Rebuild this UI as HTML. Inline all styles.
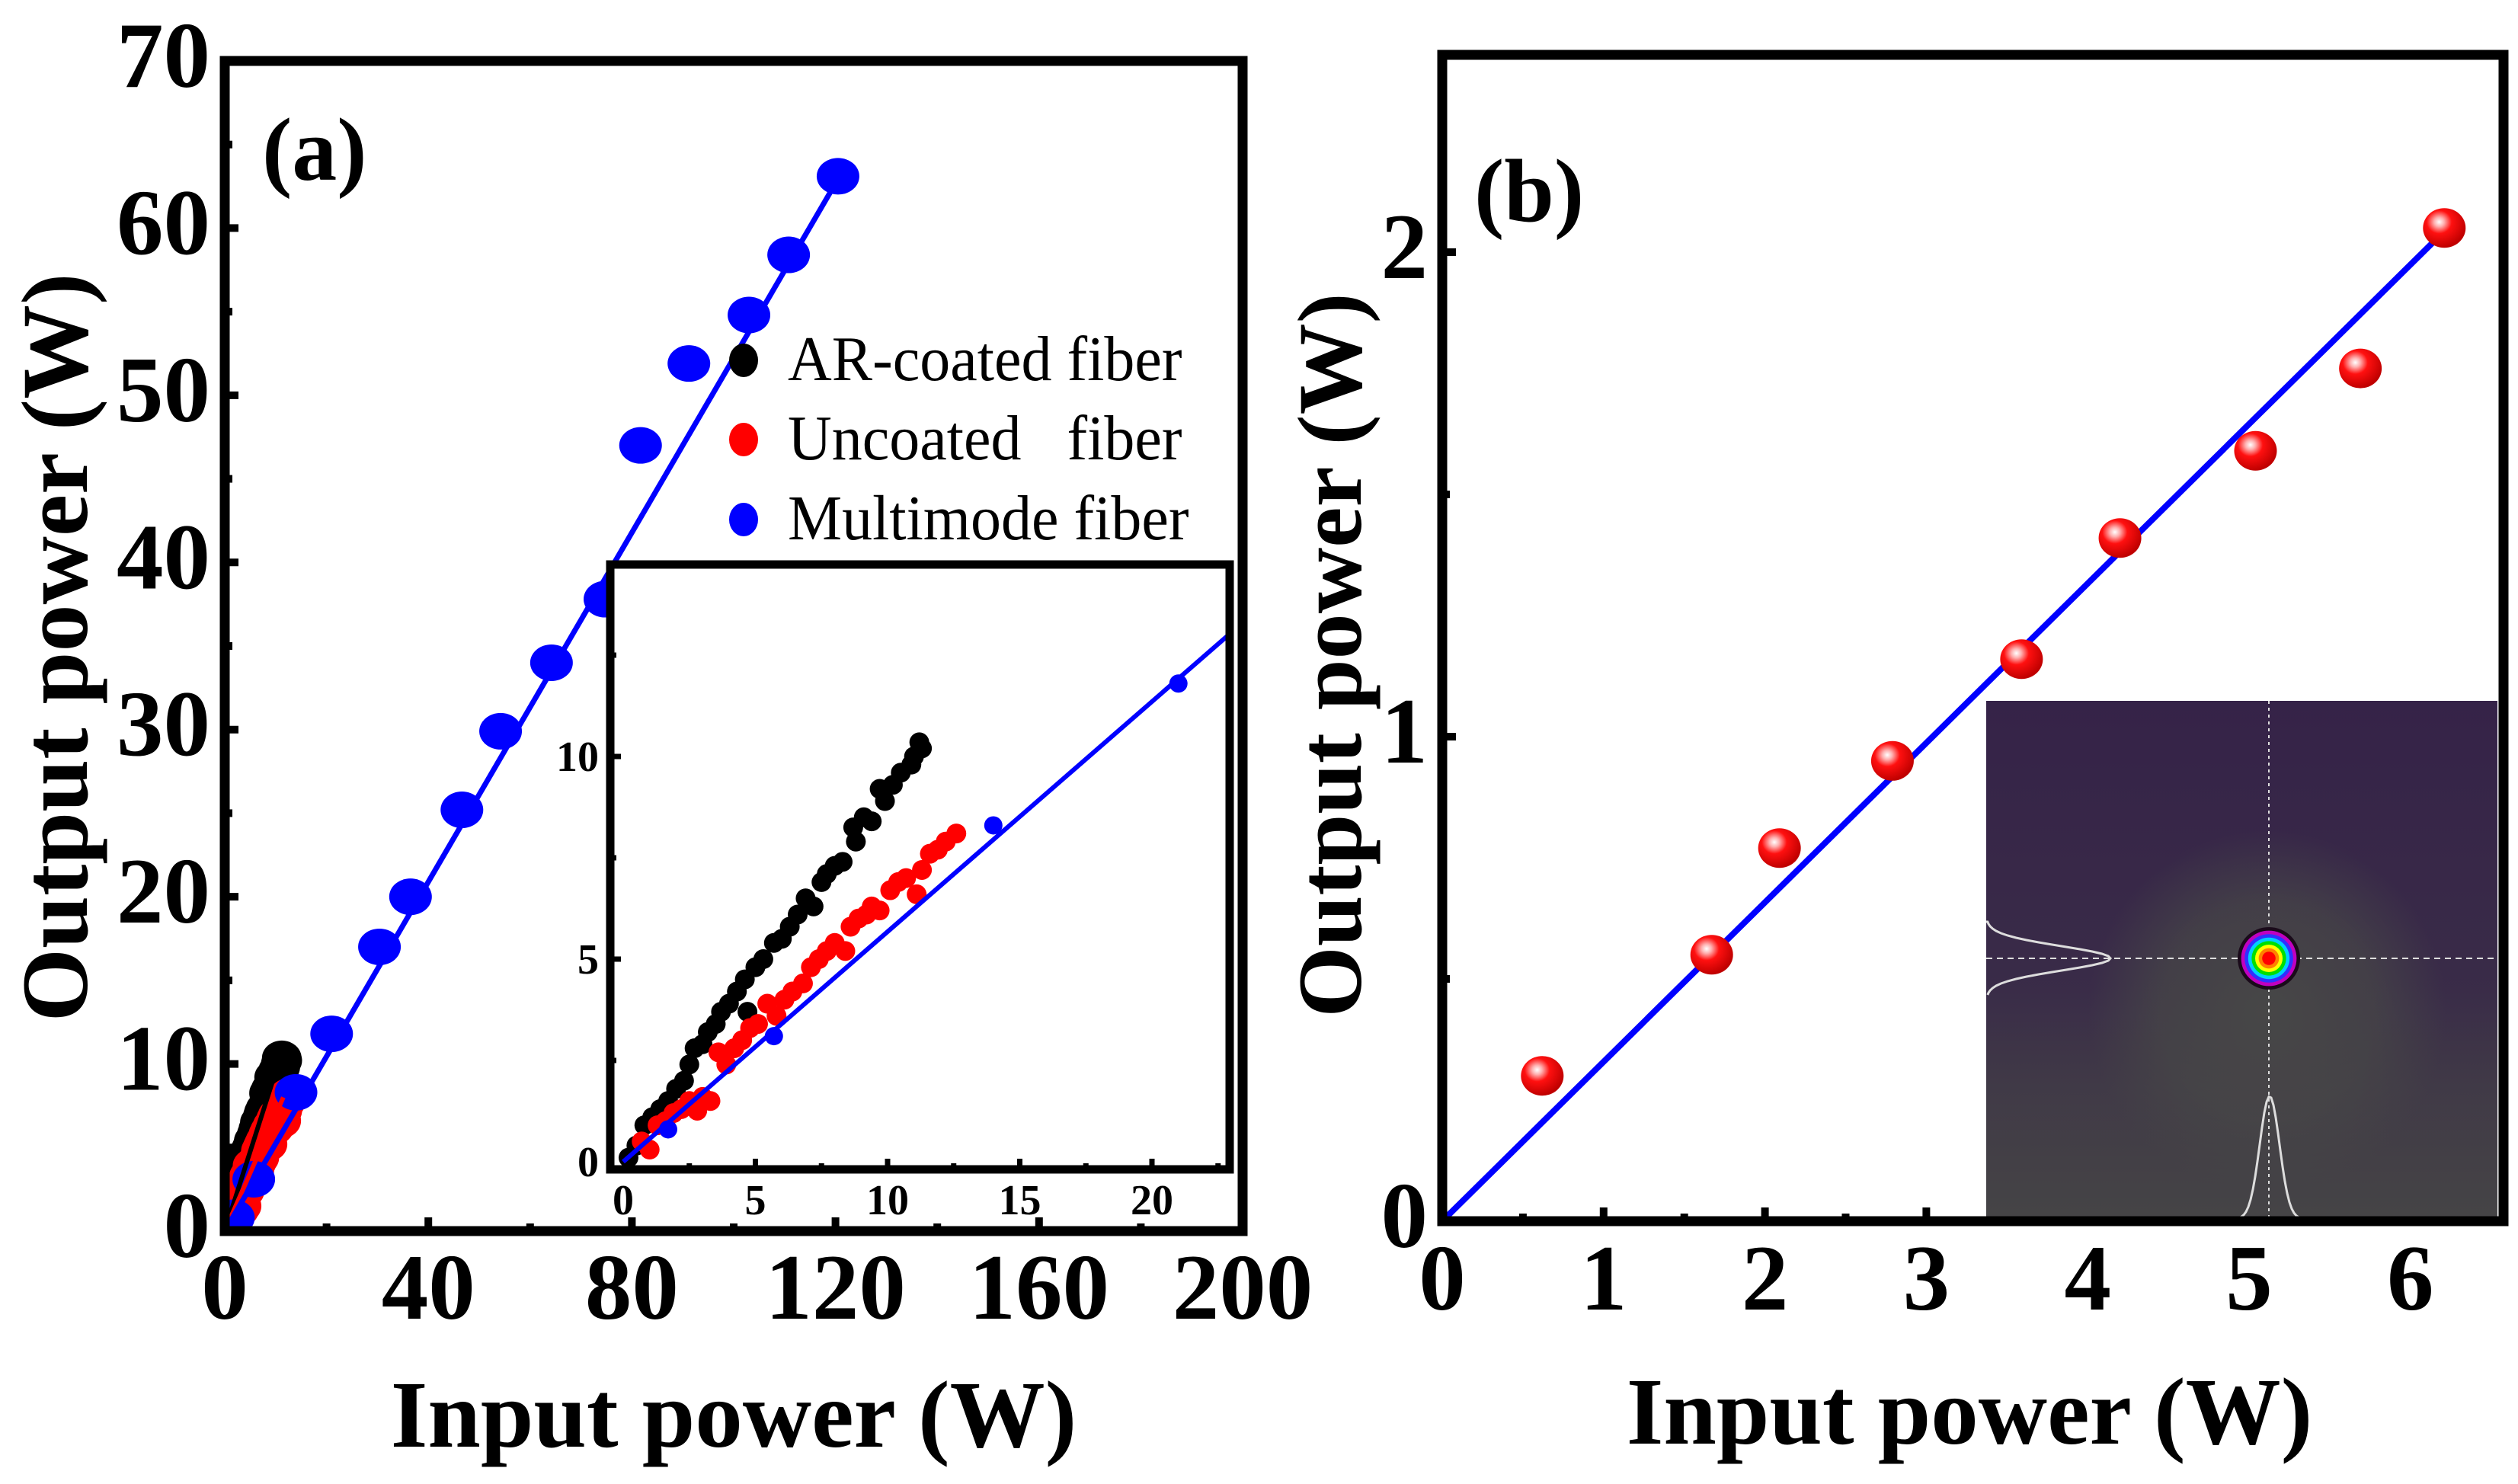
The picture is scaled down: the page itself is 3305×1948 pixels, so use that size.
<!DOCTYPE html>
<html><head><meta charset="utf-8"><style>
html,body{margin:0;padding:0;background:#fff;}
svg{display:block;}
text{font-family:"Liberation Serif",serif;}
</style></head><body>
<svg id="fig" width="3305" height="1948" viewBox="0 0 3305 1948" xmlns="http://www.w3.org/2000/svg">
<defs>
  <radialGradient id="sph" cx="0.38" cy="0.35" r="0.65">
    <stop offset="0" stop-color="#ffffff"/>
    <stop offset="0.18" stop-color="#ffb0b0"/>
    <stop offset="0.45" stop-color="#ff1010"/>
    <stop offset="1" stop-color="#c00000"/>
  </radialGradient>
  <linearGradient id="purp" x1="0" y1="0" x2="0" y2="1">
    <stop offset="0" stop-color="#2a0b4a" stop-opacity="0.6"/>
    <stop offset="0.55" stop-color="#2a0b4a" stop-opacity="0.45"/>
    <stop offset="0.75" stop-color="#2a0b4a" stop-opacity="0.2"/>
    <stop offset="1" stop-color="#2a0b4a" stop-opacity="0.03"/>
  </linearGradient>
  <radialGradient id="clear" cx="0.55" cy="0.6" r="0.35">
    <stop offset="0" stop-color="#474747" stop-opacity="1"/>
    <stop offset="0.6" stop-color="#474747" stop-opacity="0.7"/>
    <stop offset="1" stop-color="#474747" stop-opacity="0"/>
  </radialGradient>
  <clipPath id="clipA"><rect x="295" y="80" width="1336" height="1536"/></clipPath>
  <clipPath id="clipI"><rect x="801" y="741" width="813" height="794"/></clipPath>
  <clipPath id="clipB"><rect x="1893" y="72" width="1393" height="1531"/></clipPath>
</defs>
<g id="panelA"></g>
<g id="panelB"></g>
</svg>
<script>
// ---------- Panel (a) data ----------
const aXTicks = [0, 40, 80, 120, 160, 200];
const aYTicks = [0, 10, 20, 30, 40, 50, 60, 70];
const mmX = [1.7, 5.7, 14, 21, 30.4, 36.5, 46.6, 54.2, 64.2, 74.7, 81.7, 91.2, 103, 110.8, 120.5];
const mmY = [0.8, 3.1, 8.3, 11.8, 17.0, 20.0, 25.2, 29.9, 34.0, 37.8, 47.0, 51.9, 54.8, 58.4, 63.1];
const arX = [0.2,0.5,0.8,1.1,1.4,1.7,2.0,2.3,2.5,2.7,3.0,3.2,3.5,3.7,4.0,4.3,4.7,4.6,5.0,5.3,5.7,6.0,6.3,6.6,6.9,7.2,7.5,7.7,8.0,8.3,8.7,8.8,9.1,9.4,9.7,9.9,10.2,10.5,10.9,11.0,11.3,11.2];
const arY = [0.1,0.4,0.9,1.1,1.3,1.5,1.8,2.0,2.4,2.8,2.9,3.2,3.4,3.7,3.9,4.2,3.7,4.5,4.8,5.0,5.4,5.5,5.8,6.1,6.5,6.3,6.9,7.1,7.3,7.4,8.25,7.9,8.5,8.4,9.2,8.9,9.3,9.6,9.8,10.0,10.2,10.35];
const unX = [0.7,1.0,1.3,1.6,1.9,2.2,2.5,2.8,3.0,3.3,3.6,3.9,4.2,4.5,4.8,5.1,5.45,5.8,6.1,6.4,6.8,7.1,7.4,7.7,8.0,8.4,8.6,8.9,9.2,9.4,9.7,10.1,10.4,10.7,11.1,11.3,11.6,11.9,12.2,12.6];
const unY = [0.5,0.3,0.9,1.0,1.2,1.3,1.5,1.26,1.6,1.5,2.7,2.4,2.8,3.0,3.3,3.4,3.9,3.6,4.0,4.2,4.4,4.8,5.0,5.2,5.4,5.2,5.8,6.0,6.1,6.3,6.2,6.7,6.9,7.0,6.6,7.2,7.6,7.7,7.9,8.1];
const insXTicks = [0, 5, 10, 15, 20];
const insYTicks = [0, 5, 10];
const mmFitEnd = [121, 63.2];
const insFitEnd = [22.9, 13.0];
const arFitEnd = [10.5, 10.0];
const unFitEnd = [11.5, 8.0];
// ---------- Panel (b) data ----------
const bXTicks = [0, 1, 2, 3, 4, 5, 6];
const bYTicks = [0, 1, 2];
const bX = [0.62, 1.67, 2.09, 2.79, 3.59, 4.2, 5.04, 5.69, 6.21];
const bY = [0.30, 0.55, 0.77, 0.95, 1.16, 1.41, 1.59, 1.76, 2.05];
const bFitEnd = [6.2, 2.04];

const NS = "http://www.w3.org/2000/svg";
function mk(tag, attrs, parent, txt) {
  const e = document.createElementNS(NS, tag);
  for (const k in attrs) e.setAttribute(k, attrs[k]);
  if (txt !== undefined) e.textContent = txt;
  parent.appendChild(e);
  return e;
}
const axA = { x: v => 295 + v * (1631 - 295) / 200, y: v => 1616 - v * (1616 - 80) / 70 };
const axI = { x: v => 818 + v * 34.7, y: v => 1525 - v * 53.2 };
const axB = { x: v => 1893 + v * 211.8, y: v => 1603 - v * 636 };

const A = document.getElementById('panelA');
const B = document.getElementById('panelB');

// ===== Panel A =====
const gA = mk('g', {'clip-path': 'url(#clipA)'}, A);


for (let i = 0; i < arX.length; i++) {
  const c = mk('ellipse', {cx: axA.x(arX[i]), cy: axA.y(arY[i]), rx: 26, ry: 23, fill: '#000'}, gA);
  
  
}
for (let i = 0; i < unX.length; i++) {
  const c = mk('ellipse', {cx: axA.x(unX[i]), cy: axA.y(unY[i]), rx: 26, ry: 23, fill: '#f00'}, gA);
  
  
}
for (let i = 0; i < mmX.length; i++) {
  const c = mk('ellipse', {cx: axA.x(mmX[i]), cy: axA.y(mmY[i]), rx: 28, ry: 24, fill: '#00f'}, gA);
  
  
}
let l = mk('line', {x1: axA.x(0), y1: axA.y(0), x2: axA.x(arFitEnd[0]), y2: axA.y(arFitEnd[1]), stroke: '#000', 'stroke-width': 6}, gA);


l = mk('line', {x1: axA.x(0), y1: axA.y(0), x2: axA.x(unFitEnd[0]), y2: axA.y(unFitEnd[1]), stroke: '#f00', 'stroke-width': 6}, gA);


l = mk('line', {x1: axA.x(0), y1: axA.y(0), x2: axA.x(mmFitEnd[0]), y2: axA.y(mmFitEnd[1]), stroke: '#00f', 'stroke-width': 7}, gA);



for (let v = 0; v <= 200; v += 20) {
  const major = v % 40 === 0;
  const t = mk('line', {x1: axA.x(v), x2: axA.x(v), y1: 1616, y2: 1616 - (major ? 18 : 10), stroke: '#000', 'stroke-width': 10}, A);
  
  
}
for (let v = 0; v <= 70; v += 5) {
  const major = v % 10 === 0;
  const t = mk('line', {x1: 295, x2: 295 + (major ? 18 : 10), y1: axA.y(v), y2: axA.y(v), stroke: '#000', 'stroke-width': 10}, A);
  
  
}
let fr = mk('rect', {x: 295, y: 80, width: 1336, height: 1536, fill: 'none', stroke: '#000', 'stroke-width': 13}, A);


aXTicks.forEach(v => {
  const t = mk('text', {x: axA.x(v), y: 1731, 'text-anchor': 'middle', 'font-size': 123, 'font-weight': 'bold'}, A, String(v));
  
  
});
aYTicks.forEach(v => {
  const t = mk('text', {x: 276, y: axA.y(v) + 34, 'text-anchor': 'end', 'font-size': 123, 'font-weight': 'bold'}, A, String(v));
  
  
});
let tt = mk('text', {x: 963, y: 1899, 'text-anchor': 'middle', 'font-size': 125, 'font-weight': 'bold'}, A, 'Input power (W)');


tt = mk('text', {x: 0, y: 0, 'text-anchor': 'middle', 'font-size': 124, 'font-weight': 'bold', transform: 'translate(114,850) rotate(-90)'}, A, 'Output power (W)');


tt = mk('text', {x: 344, y: 236, 'font-size': 118, 'font-weight': 'bold'}, A, '(a)');



// inset
const ins = mk('g', {}, A);


let ib = mk('rect', {x: 801, y: 741, width: 813, height: 794, fill: '#fff'}, ins);


const gI = mk('g', {'clip-path': 'url(#clipI)'}, ins);


for (let i = 0; i < arX.length; i++) {
  const c = mk('circle', {cx: axI.x(arX[i]), cy: axI.y(arY[i]), r: 13, fill: '#000'}, gI);
  
  
}
for (let i = 0; i < unX.length; i++) {
  const c = mk('circle', {cx: axI.x(unX[i]), cy: axI.y(unY[i]), r: 13, fill: '#f00'}, gI);
  
  
}
l = mk('line', {x1: axI.x(0), y1: axI.y(0), x2: axI.x(insFitEnd[0]), y2: axI.y(insFitEnd[1]), stroke: '#00f', 'stroke-width': 6}, gI);


for (let i = 0; i < mmX.length; i++) {
  const c = mk('circle', {cx: axI.x(mmX[i]), cy: axI.y(mmY[i]), r: 12, fill: '#00f'}, gI);
  
  
}
for (let v = 2.5; v <= 22.5; v += 2.5) {
  const major = v % 5 === 0;
  const t = mk('line', {x1: axI.x(v), x2: axI.x(v), y1: 1535, y2: 1535 - (major ? 14 : 8), stroke: '#000', 'stroke-width': 7}, ins);
  
  
}
for (let v = 2.5; v <= 12.5; v += 2.5) {
  const major = v % 5 === 0;
  const t = mk('line', {x1: 801, x2: 801 + (major ? 14 : 8), y1: axI.y(v), y2: axI.y(v), stroke: '#000', 'stroke-width': 7}, ins);
  
  
}
fr = mk('rect', {x: 801, y: 741, width: 813, height: 794, fill: 'none', stroke: '#000', 'stroke-width': 11}, ins);


insXTicks.forEach(v => {
  const t = mk('text', {x: axI.x(v), y: 1594, 'text-anchor': 'middle', 'font-size': 56, 'font-weight': 'bold'}, ins, String(v));
  
  
});
insYTicks.forEach(v => {
  const t = mk('text', {x: 786, y: axI.y(v) + 19, 'text-anchor': 'end', 'font-size': 56, 'font-weight': 'bold'}, ins, String(v));
  
  
});

// legend (drawn after inset so it stays on top)
const leg = mk('g', {}, A);


const legItems = [['#000', 'AR-coated fiber', 469], ['#f00', 'Uncoated\u00a0\u00a0\u00a0fiber', 573], ['#00f', 'Multimode fiber', 678]];
legItems.forEach(it => {
  const e = mk('ellipse', {cx: 976, cy: it[2] + 4, rx: 19, ry: 22, fill: it[0]}, leg);
  
  
  const t = mk('text', {x: 0, y: 0, 'font-size': 80, transform: 'translate(1034,' + (it[2] + 30) + ') scale(1,1.05)'}, leg, it[1]);
  
  
});

// ===== Panel B =====
const gB = mk('g', {'clip-path': 'url(#clipB)'}, B);


l = mk('line', {x1: axB.x(0), y1: axB.y(0), x2: axB.x(bFitEnd[0]), y2: axB.y(bFitEnd[1]), stroke: '#00f', 'stroke-width': 8}, gB);


const beam = mk('g', {}, B);


mk('rect', {x: 2607, y: 920, width: 671, height: 680, fill: '#464646'}, beam);
mk('rect', {x: 2607, y: 920, width: 671, height: 680, fill: 'url(#purp)'}, beam);
mk('rect', {x: 2607, y: 920, width: 671, height: 680, fill: 'url(#clear)'}, beam);
mk('line', {x1: 2978, y1: 920, x2: 2978, y2: 1600, stroke: '#ddd', 'stroke-width': 2, 'stroke-dasharray': '4 5'}, beam);
mk('line', {x1: 2607, y1: 1258, x2: 3278, y2: 1258, stroke: '#ddd', 'stroke-width': 2, 'stroke-dasharray': '8 6'}, beam);
const ringCols = ['#1a0a1a', '#c000c0', '#3030ff', '#00d0ff', '#00e000', '#ffff00', '#ff8000', '#ff0000'];
ringCols.forEach((c, i) => mk('circle', {cx: 2978, cy: 1258, r: 41 - i * 4.6, fill: c}, beam));
let pL = 'M2607 1210';
for (let d = -48; d <= 48; d += 3) { pL += ' L' + (2607 + 163 * Math.exp(-d * d / (2 * 16 * 16))).toFixed(1) + ' ' + (1258 + d); }
mk('path', {d: pL, fill: 'none', stroke: '#ddd', 'stroke-width': 3}, beam);
let pB = 'M2940 1600';
for (let d = -40; d <= 40; d += 3) { pB += ' L' + (2979 + d) + ' ' + (1600 - 161 * Math.exp(-d * d / (2 * 13 * 13))).toFixed(1); }
mk('path', {d: pB, fill: 'none', stroke: '#ddd', 'stroke-width': 3}, beam);
for (let i = 0; i < bX.length; i++) {
  const c = mk('ellipse', {cx: axB.x(bX[i]), cy: axB.y(bY[i]), rx: 28, ry: 26, fill: 'url(#sph)'}, B);
  
  
}
for (let v = 0.5; v <= 3; v += 0.5) {
  const major = v % 1 === 0;
  const t = mk('line', {x1: axB.x(v), x2: axB.x(v), y1: 1603, y2: 1603 - (major ? 18 : 10), stroke: '#000', 'stroke-width': 10}, B);
  
  
}
for (let v = 0.5; v <= 2; v += 0.5) {
  const major = v % 1 === 0;
  const t = mk('line', {x1: 1893, x2: 1893 + (major ? 18 : 10), y1: axB.y(v), y2: axB.y(v), stroke: '#000', 'stroke-width': 10}, B);
  
  
}
fr = mk('rect', {x: 1893, y: 72, width: 1393, height: 1531, fill: 'none', stroke: '#000', 'stroke-width': 13}, B);


bXTicks.forEach(v => {
  const t = mk('text', {x: axB.x(v), y: 1719, 'text-anchor': 'middle', 'font-size': 123, 'font-weight': 'bold'}, B, String(v));
  
  
});
bYTicks.forEach(v => {
  const t = mk('text', {x: 1874, y: axB.y(v) + 34, 'text-anchor': 'end', 'font-size': 123, 'font-weight': 'bold'}, B, String(v));
  
  
});
tt = mk('text', {x: 2585, y: 1895, 'text-anchor': 'middle', 'font-size': 125, 'font-weight': 'bold'}, B, 'Input power (W)');


tt = mk('text', {x: 0, y: 0, 'text-anchor': 'middle', 'font-size': 120, 'font-weight': 'bold', transform: 'translate(1786,860) rotate(-90)'}, B, 'Output power (W)');


tt = mk('text', {x: 1935, y: 290, 'font-size': 118, 'font-weight': 'bold'}, B, '(b)');


</script>
</body></html>
